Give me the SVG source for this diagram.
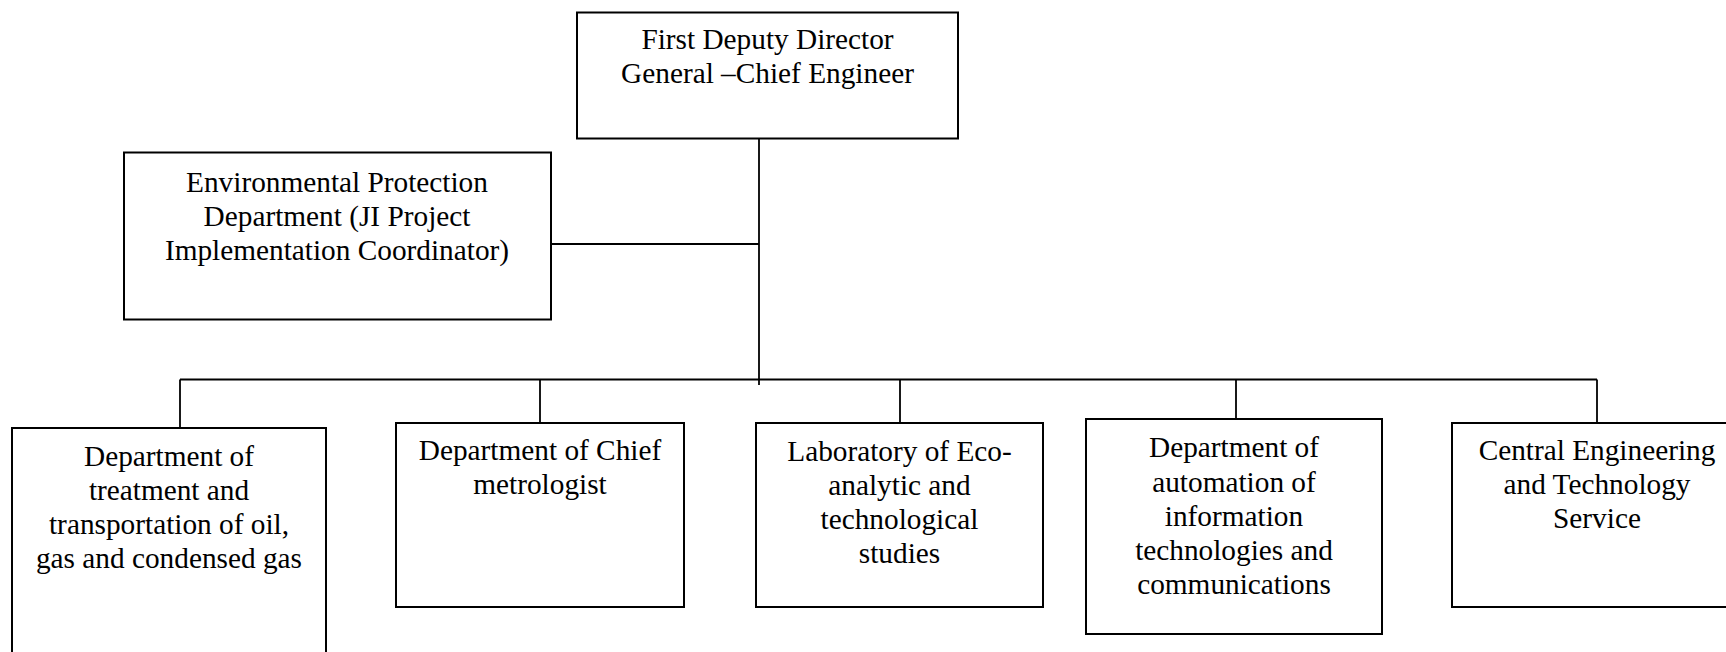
<svg xmlns="http://www.w3.org/2000/svg" width="1726" height="652" viewBox="0 0 1726 652">
  <style>
    .box { fill: #ffffff; stroke: #000000; stroke-width: 2; }
    .line { fill: none; stroke: #000000; stroke-width: 1.8; }
    text { font-family: "Liberation Serif", "Times New Roman", serif; font-size: 29.3px; fill: #000000; text-anchor: middle; }
  </style>
  <rect x="0" y="0" width="1726" height="652" fill="#ffffff"/>

  <!-- connectors -->
  <g id="connectors">
    <line class="line" x1="759" y1="138.5" x2="759" y2="385"/>
    <line class="line" x1="551" y1="244" x2="759" y2="244"/>
    <line class="line" x1="180" y1="379.5" x2="1597" y2="379.5"/>
    <line class="line" x1="180" y1="379.5" x2="180" y2="428"/>
    <line class="line" x1="540" y1="379.5" x2="540" y2="423"/>
    <line class="line" x1="900" y1="379.5" x2="900" y2="423"/>
    <line class="line" x1="1236" y1="379.5" x2="1236" y2="419"/>
    <line class="line" x1="1597" y1="379.5" x2="1597" y2="423"/>
  </g>

  <g id="chief-engineer">
    <rect class="box" x="577" y="12.5" width="381" height="126"/>
    <text x="767.5" y="49.3">First Deputy Director</text>
    <text x="767.5" y="83">General –Chief Engineer</text>
  </g>

  <g id="environmental-protection">
    <rect class="box" x="124" y="152.5" width="427" height="167"/>
    <text x="337" y="192">Environmental Protection</text>
    <text x="337" y="226">Department (JI Project</text>
    <text x="337" y="260">Implementation Coordinator)</text>
  </g>

  <g id="oil-gas-treatment">
    <rect class="box" x="12" y="428" width="314" height="240"/>
    <text x="169" y="465.7">Department of</text>
    <text x="169" y="500">treatment and</text>
    <text x="169" y="534">transportation of oil,</text>
    <text x="169" y="568">gas and condensed gas</text>
  </g>

  <g id="chief-metrologist">
    <rect class="box" x="396" y="423" width="288" height="184"/>
    <text x="540" y="460">Department of Chief</text>
    <text x="540" y="494">metrologist</text>
  </g>

  <g id="eco-laboratory">
    <rect class="box" x="756" y="423" width="287" height="184"/>
    <text x="899.5" y="460.7">Laboratory of Eco-</text>
    <text x="899.5" y="494.5">analytic and</text>
    <text x="899.5" y="528.5">technological</text>
    <text x="899.5" y="562.5">studies</text>
  </g>

  <g id="it-automation">
    <rect class="box" x="1086" y="419" width="296" height="215"/>
    <text x="1234" y="457.3">Department of</text>
    <text x="1234" y="491.5">automation of</text>
    <text x="1234" y="525.7">information</text>
    <text x="1234" y="560">technologies and</text>
    <text x="1234" y="594">communications</text>
  </g>

  <g id="engineering-service">
    <rect class="box" x="1452" y="423" width="290" height="184"/>
    <text x="1597" y="460">Central Engineering</text>
    <text x="1597" y="494">and Technology</text>
    <text x="1597" y="528">Service</text>
  </g>
</svg>
